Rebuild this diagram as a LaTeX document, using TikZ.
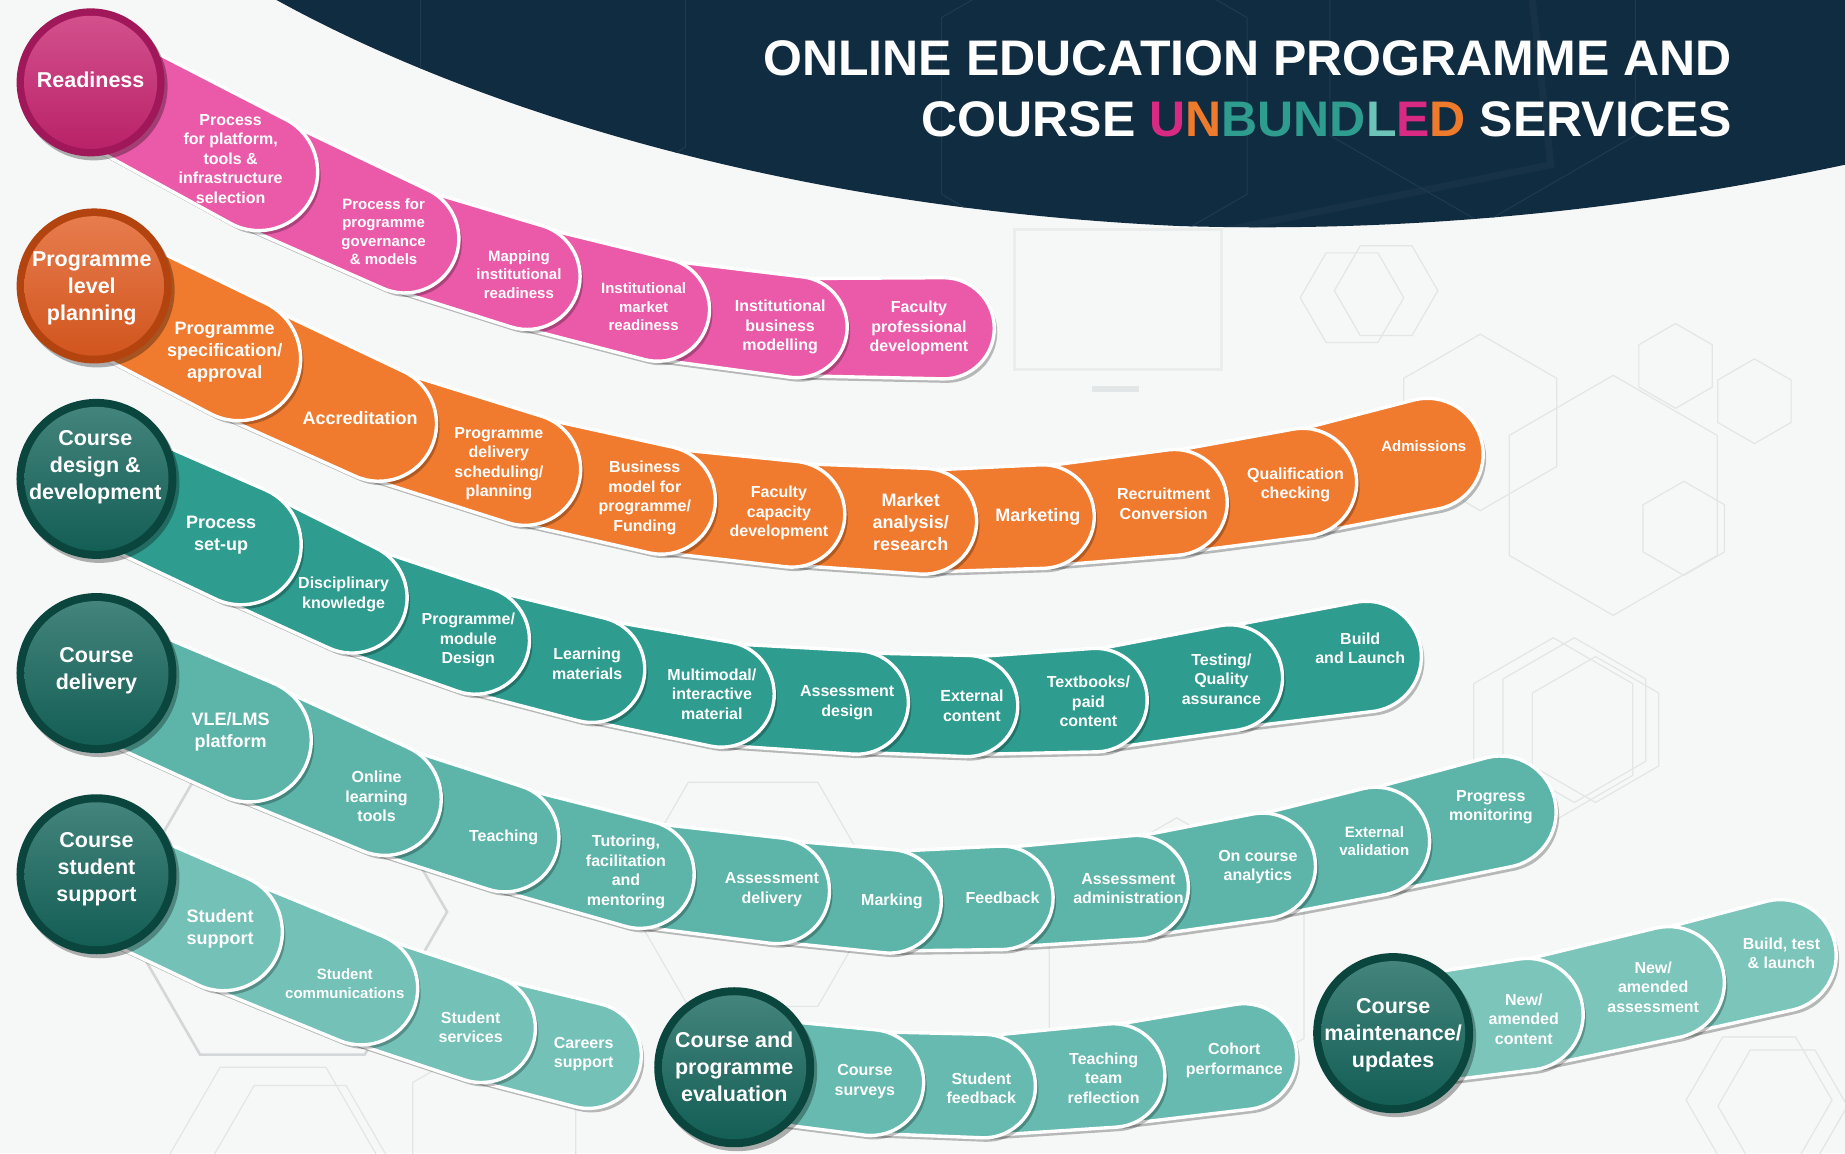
\documentclass[tikz,border=0pt]{standalone}
\usepackage{fontspec}
\setmainfont{Liberation Sans}
\usetikzlibrary{calc,shadows}
\definecolor{navy}{HTML}{102C40}
\definecolor{navyline}{HTML}{203B51}
\definecolor{bgc}{HTML}{F6F7F7}
\definecolor{hexc}{HTML}{E3E6E6}
\definecolor{pinkS}{HTML}{EA5AA8}
\definecolor{pinkC}{HTML}{C8226F}
\definecolor{pinkR}{HTML}{A0175A}
\definecolor{oraS}{HTML}{F07A2E}
\definecolor{oraC}{HTML}{E25A1E}
\definecolor{oraR}{HTML}{B4440F}
\definecolor{tealA}{HTML}{2E9C8E}
\definecolor{tealB}{HTML}{5DB5AA}
\definecolor{tealC}{HTML}{73C1B7}
\definecolor{tealD}{HTML}{66BAAF}
\definecolor{tealE}{HTML}{7BC5BB}
\definecolor{hubC}{HTML}{12645A}
\definecolor{hubR}{HTML}{0A463D}
\definecolor{tMag}{HTML}{D82A82}
\definecolor{tOra}{HTML}{EE7A2C}
\definecolor{tTeal}{HTML}{2E9C8E}
\definecolor{tLt}{HTML}{6CC3B8}

% one segment: previous cap centre (#1,#2), own cap centre (#3,#4),
% previous thickness #5, own thickness #6, colour #7
\newcommand\seg[7]{%
  \pgfmathsetmacro\sgdx{((#3)-(#1))/100}%
  \pgfmathsetmacro\sgdy{((#4)-(#2))/100}%
  \pgfmathsetmacro\sgln{sqrt((\sgdx)*(\sgdx)+(\sgdy)*(\sgdy))}%
  \pgfmathsetmacro\sgux{(\sgdx)/\sgln}%
  \pgfmathsetmacro\sguy{(\sgdy)/\sgln}%
  \pgfmathsetmacro\sgra{(#5)*0.48}%
  \pgfmathsetmacro\sgrb{(#6)*0.5}%
  \pgfmathsetmacro\sgk{0.5523*\sgrb}%
  \pgfmathsetmacro\sgLax{(#1)-(\sguy)*\sgra}%
  \pgfmathsetmacro\sgLay{(#2)+(\sgux)*\sgra}%
  \pgfmathsetmacro\sgLbx{(#1)+(\sguy)*\sgra}%
  \pgfmathsetmacro\sgLby{(#2)-(\sgux)*\sgra}%
  \pgfmathsetmacro\sgRax{(#3)-(\sguy)*\sgrb}%
  \pgfmathsetmacro\sgRay{(#4)+(\sgux)*\sgrb}%
  \pgfmathsetmacro\sgRbx{(#3)+(\sguy)*\sgrb}%
  \pgfmathsetmacro\sgRby{(#4)-(\sgux)*\sgrb}%
  \pgfmathsetmacro\sgTx{(#3)+(\sgux)*\sgrb}%
  \pgfmathsetmacro\sgTy{(#4)+(\sguy)*\sgrb}%
  \pgfmathsetmacro\sgAx{\sgRax+(\sgux)*\sgk}%
  \pgfmathsetmacro\sgAy{\sgRay+(\sguy)*\sgk}%
  \pgfmathsetmacro\sgBx{\sgTx-(\sguy)*\sgk}%
  \pgfmathsetmacro\sgBy{\sgTy+(\sgux)*\sgk}%
  \pgfmathsetmacro\sgCx{\sgTx+(\sguy)*\sgk}%
  \pgfmathsetmacro\sgCy{\sgTy-(\sgux)*\sgk}%
  \pgfmathsetmacro\sgDx{\sgRbx+(\sgux)*\sgk}%
  \pgfmathsetmacro\sgDy{\sgRby+(\sguy)*\sgk}%
  \path[segstyle=#7] (\sgLax,\sgLay) -- (\sgRax,\sgRay)
    .. controls (\sgAx,\sgAy) and (\sgBx,\sgBy) .. (\sgTx,\sgTy)
    .. controls (\sgCx,\sgCy) and (\sgDx,\sgDy) .. (\sgRbx,\sgRby)
    -- (\sgLbx,\sgLby) -- cycle;
}
% hexagon outline: centre (#1,#2), radius #3, start angle #4, style #5
\newcommand\hexa[5]{%
  \draw[#5] ($(#1,#2)+(#4:#3)$) -- ($(#1,#2)+(#4+60:#3)$) -- ($(#1,#2)+(#4+120:#3)$)
   -- ($(#1,#2)+(#4+180:#3)$) -- ($(#1,#2)+(#4+240:#3)$) -- ($(#1,#2)+(#4+300:#3)$) -- cycle;}

\begin{document}
\begin{tikzpicture}[x=1.1767pt,y=-1.1767pt,
  segstyle/.style={fill=#1, draw=white, line width=3.4pt, line join=round,
    drop shadow={shadow xshift=3pt, shadow yshift=-4pt, opacity=0.26, fill=black}},
  lbl/.style={text=white, align=center, inner sep=0pt,
    font=\fontsize{16}{19.5}\selectfont\bfseries},
  lblbig/.style={lbl, font=\fontsize{18}{22}\selectfont\bfseries},
  lblsm/.style={lbl, font=\fontsize{15}{18.5}\selectfont\bfseries},
  hubtxt/.style={text=white, align=center, inner sep=0pt,
    font=\fontsize{21.5}{27}\selectfont\bfseries},
  hub/.style n args={3}{circle, minimum size=#1, inner sep=0pt, fill=#3,
    drop shadow={shadow xshift=3pt, shadow yshift=-4pt, opacity=0.3, fill=black},
    path picture={\shade[top color=#2!78!white, bottom color=#2!92!black]
      (path picture bounding box.center) circle[radius=0.45*#1];}},
  hexl/.style={draw=hexc, line width=1.2pt},
  hexd/.style={draw=hexc!85!gray, line width=2.6pt},
  navl/.style={draw=navyline, line width=1pt}]
\useasboundingbox (0,0) rectangle (1568,980);
\fill[bgc] (0,0) rectangle (1568,980);

% ---------- faint background hexagons ----------
\hexa{1258}{359}{75}{90}{hexl}
\hexa{1371}{421}{102}{90}{hexl}
\hexa{1424}{311}{36}{90}{hexl}
\hexa{1491}{341}{36}{90}{hexl}
\hexa{1431}{449}{40}{90}{hexl}
\hexa{1149}{253}{44}{0}{hexl}
\hexa{1178}{247}{44}{0}{hexl}
\hexa{1320}{620}{78}{90}{hexl}
\hexa{1338}{612}{70}{90}{hexl}
\hexa{1356}{620}{62}{90}{hexl}
\hexa{1495}{935}{62}{0}{hexl}
\hexa{1515}{940}{55}{0}{hexl}
\hexa{240}{775}{140}{0}{hexd}
\hexa{232}{985}{90}{0}{hexl}
\hexa{255}{990}{78}{0}{hexl}
\hexa{420}{960}{80}{90}{hexl}
\hexa{1000}{820}{125}{90}{hexl}
\hexa{640}{760}{110}{0}{hexl}
\draw[hexc!70!white, line width=2.6pt] (862,195) rectangle (1038,314);
\fill[hexc] (928,328) rectangle (968,333);

% ---------- header ----------
\fill[navy] (235,0) .. controls (380,80) and (640,175) .. (1000,192)
  .. controls (1250,200) and (1450,165) .. (1568,140) -- (1568,0) -- cycle;
\begin{scope}
  \clip (235,0) .. controls (380,80) and (640,175) .. (1000,192)
    .. controls (1250,200) and (1450,165) .. (1568,140) -- (1568,0) -- cycle;
  \hexa{470}{60}{130}{90}{navl}
  \hexa{930}{90}{150}{90}{navl}
  \hexa{1260}{40}{150}{90}{navl}
  \draw[navyline, line width=7pt, opacity=0.45] (1300,-20) -- (1318,140) -- (1020,200);
\end{scope}
\node[anchor=base east, text=white, inner sep=0pt,
  font=\fontsize{50}{60}\selectfont\bfseries] (title1) at (1472,64)
  {ONLINE EDUCATION PROGRAMME AND};
\node[anchor=base east, text=white, inner sep=0pt,
  font=\fontsize{50}{60}\selectfont\bfseries] (title2) at (1472,116)
  {COURSE \textcolor{tMag}{U}\textcolor{tOra}{N}\textcolor{tTeal}{BUND}\textcolor{tLt}{L}\textcolor{tMag}{E}\textcolor{tOra}{D} SERVICES};

% ---------- row 1: readiness ----------
\seg{677}{278}{802}{279}{86}{86}{pinkS}
\seg{559}{263}{677}{278}{88}{86}{pinkS}
\seg{448}{235}{559}{263}{90}{88}{pinkS}
\seg{344}{203}{448}{235}{92}{90}{pinkS}
\seg{220}{146}{344}{203}{100}{92}{pinkS}
\seg{77}{70}{220}{146}{100}{100}{pinkS}
\node[hub={148pt}{pinkC}{pinkR}] (hub1) at (77,70) {};
\node[hubtxt] (hub1t) at (77,68) {Readiness};
\node[lbl] (r1a) at (196,135) {Process\\for platform,\\tools \&\\infrastructure\\selection};
\node[lblsm] (r1b) at (326,197) {Process for\\programme\\governance\\\& models};
\node[lblsm] (r1c) at (441,233) {Mapping\\institutional\\readiness};
\node[lblsm] (r1d) at (547,261) {Institutional\\market\\readiness};
\node[lbl] (r1e) at (663,278) {Institutional\\business\\modelling};
\node[lbl] (r1f) at (781,279) {Faculty\\professional\\development};

% ---------- row 2: programme level planning ----------
\seg{1107}{410}{1213}{386}{92}{95}{oraS}
\seg{998}{427}{1107}{410}{90}{92}{oraS}
\seg{886}{439}{998}{427}{88}{90}{oraS}
\seg{785}{443}{886}{439}{90}{88}{oraS}
\seg{673}{437}{785}{443}{90}{90}{oraS}
\seg{562}{425}{673}{437}{92}{90}{oraS}
\seg{446}{399}{562}{425}{95}{92}{oraS}
\seg{322}{360}{446}{399}{98}{95}{oraS}
\seg{203}{305}{322}{360}{105}{98}{oraS}
\seg{80}{243}{203}{305}{105}{105}{oraS}
\node[hub={155pt}{oraC}{oraR}] (hub2) at (80,243) {};
\node[hubtxt] (hub2t) at (78,245) {Programme\\level\\planning};
\node[lblbig] (r2a) at (191,299) {Programme\\specification/\\approval};
\node[lblbig] (r2b) at (306,355) {Accreditation};
\node[lbl] (r2c) at (424,394) {Programme\\delivery\\scheduling/\\planning};
\node[lbl] (r2d) at (548,423) {Business\\model for\\programme/\\Funding};
\node[lbl] (r2e) at (662,436) {Faculty\\capacity\\development};
\node[lblbig] (r2f) at (774,444) {Market\\analysis/\\research};
\node[lblbig] (r2g) at (882,439) {Marketing};
\node[lbl] (r2h) at (989,428) {Recruitment\\Conversion};
\node[lbl] (r2i) at (1101,412) {Qualification\\checking};
\node[lblsm] (r2j) at (1210,379) {Admissions};

% ---------- row 3: course design & development ----------
\seg{1045}{576}{1161}{558}{90}{94}{tealA}
\seg{931}{595}{1045}{576}{88}{90}{tealA}
\seg{822}{600}{931}{595}{86}{88}{tealA}
\seg{728}{597}{822}{600}{88}{86}{tealA}
\seg{613}{590}{728}{597}{90}{88}{tealA}
\seg{503}{569}{613}{590}{90}{90}{tealA}
\seg{404}{544}{503}{569}{92}{90}{tealA}
\seg{299}{508}{404}{544}{94}{92}{tealA}
\seg{205}{463}{299}{508}{102}{94}{tealA}
\seg{82}{407}{205}{463}{102}{102}{tealA}
\node[hub={160pt}{hubC}{hubR}] (hub3) at (82,407) {};
\node[hubtxt] (hub3t) at (81,397) {Course\\design \&\\development};
\node[lblbig] (r3a) at (188,455) {Process\\set-up};
\node[lbl] (r3b) at (292,505) {Disciplinary\\knowledge};
\node[lbl] (r3c) at (398,544) {Programme/\\module\\Design};
\node[lbl] (r3d) at (499,564) {Learning\\materials};
\node[lbl] (r3e) at (605,590) {Multimodal/\\interactive\\material};
\node[lbl] (r3f) at (720,597) {Assessment\\design};
\node[lbl] (r3g) at (826,600) {External\\content};
\node[lbl] (r3h) at (925,596) {Textbooks/\\paid\\content};
\node[lbl] (r3i) at (1038,577) {Testing/\\Quality\\assurance};
\node[lbl] (r3j) at (1156,551) {Build\\and Launch};

% ---------- row 4: course delivery ----------
\seg{1169}{715}{1275}{690}{92}{95}{tealB}
\seg{1073}{736}{1169}{715}{90}{92}{tealB}
\seg{966}{754}{1073}{736}{88}{90}{tealB}
\seg{851}{763}{966}{754}{88}{88}{tealB}
\seg{756}{766}{851}{763}{88}{88}{tealB}
\seg{660}{757}{756}{766}{90}{88}{tealB}
\seg{544}{743}{660}{757}{92}{90}{tealB}
\seg{429}{712}{544}{743}{92}{92}{tealB}
\seg{327}{679}{429}{712}{96}{92}{tealB}
\seg{212}{629}{327}{679}{105}{96}{tealB}
\seg{82}{572}{212}{629}{105}{105}{tealB}
\node[hub={160pt}{hubC}{hubR}] (hub4) at (82,572) {};
\node[hubtxt] (hub4t) at (82,570) {Course\\delivery};
\node[lblbig] (r4a) at (196,622) {VLE/LMS\\platform};
\node[lbl] (r4b) at (320,677) {Online\\learning\\tools};
\node[lbl] (r4c) at (428,712) {Teaching};
\node[lbl] (r4d) at (532,741) {Tutoring,\\facilitation\\and\\mentoring};
\node[lbl] (r4e) at (656,756) {Assessment\\delivery};
\node[lbl] (r4f) at (758,766) {Marking};
\node[lbl] (r4g) at (852,763) {Feedback};
\node[lbl] (r4h) at (959,755) {Assessment\\administration};
\node[lbl] (r4i) at (1069,737) {On course\\analytics};
\node[lblsm] (r4j) at (1168,715) {External\\validation};
\node[lbl] (r4k) at (1267,686) {Progress\\monitoring};

% ---------- row 5: course student support ----------
\seg{409}{874}{500}{897}{92}{90}{tealC}
\seg{307}{840}{409}{874}{96}{92}{tealC}
\seg{190}{792}{307}{840}{100}{96}{tealC}
\seg{82}{743}{190}{792}{100}{100}{tealC}
\node[hub={160pt}{hubC}{hubR}] (hub5) at (82,743) {};
\node[hubtxt] (hub5t) at (82,739) {Course\\student\\support};
\node[lblbig] (r5a) at (187,789) {Student\\support};
\node[lblsm] (r5b) at (293,836) {Student\\communications};
\node[lbl] (r5c) at (400,873) {Student\\services};
\node[lbl] (r5d) at (496,896) {Careers\\support};

% ---------- row 6: course and programme evaluation ----------
\seg{946}{914}{1057}{898}{88}{90}{tealD}
\seg{836}{923}{946}{914}{88}{88}{tealD}
\seg{740}{920}{836}{923}{90}{88}{tealD}
\seg{624}{907}{740}{920}{90}{90}{tealD}
\node[hub={160pt}{hubC}{hubR}] (hub6) at (624,907) {};
\node[hubtxt] (hub6t) at (624,907) {Course and\\programme\\evaluation};
\node[lbl] (r6a) at (735,919) {Course\\surveys};
\node[lbl] (r6b) at (834,925) {Student\\feedback};
\node[lbl] (r6c) at (938,916) {Teaching\\team\\reflection};
\node[lbl] (r6d) at (1049,901) {Cohort\\performance};

% ---------- row 7: course maintenance / updates ----------
\seg{1418}{835}{1513}{812}{95}{95}{tealE}
\seg{1298}{862}{1418}{835}{95}{95}{tealE}
\seg{1184}{878}{1298}{862}{95}{95}{tealE}
\node[hub={160pt}{hubC}{hubR}] (hub7) at (1184,878) {};
\node[hubtxt] (hub7t) at (1184,880) {Course\\maintenance/\\updates};
\node[lbl] (r7a) at (1295,866) {New/\\amended\\content};
\node[lbl] (r7b) at (1405,839) {New/\\amended\\assessment};
\node[lbl] (r7c) at (1514,810) {Build, test\\\& launch};
\end{tikzpicture}
\end{document}
